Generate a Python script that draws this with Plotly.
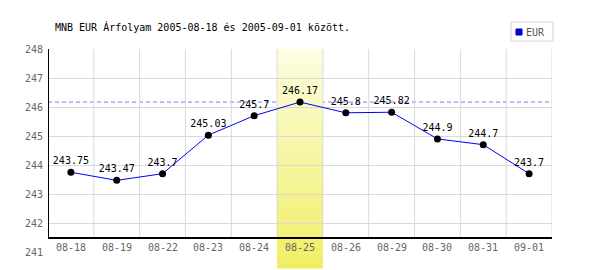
import plotly.graph_objects as go

categories = ["08-18", "08-19", "08-22", "08-23", "08-24", "08-25",
              "08-26", "08-29", "08-30", "08-31", "09-01"]
eur_values = [243.75, 243.47, 243.7, 245.03, 245.7, 246.17,
              245.8, 245.82, 244.9, 244.7, 243.7]
series_name = "EUR"
title_text = "MNB EUR Árfolyam 2005-08-18 és 2005-09-01 között."
y_ticks = [241, 242, 243, 244, 245, 246, 247, 248]
highlight_category = "08-25"
reference_value = max(eur_values)

W, H = 600, 270
L, R, T, B = 48, 48, 49, 18
PW, PH = W - L - R, H - T - B
YMIN, YMAX = 241, 248
MONO = "DejaVu Sans Mono"
GRID = "#d9d9d9"


def px_x(px):
    return (px - L) / PW


def px_y(py):
    return (H - B - py) / PH


def val_from_py(py):
    return YMIN + (H - B - py) / PH * (YMAX - YMIN)


axis_y = val_from_py(238)
n = len(categories)

fig = go.Figure()
fig.add_trace(go.Scatter(
    x=categories, y=eur_values, name=series_name,
    mode="lines+markers+text",
    line=dict(color="#0000ff", width=1),
    marker=dict(color="black", size=7),
    text=[str(v) for v in eur_values],
    textposition="top center",
    textfont=dict(family=MONO, size=10, color="black"),
    cliponaxis=False, showlegend=False,
))

shapes = []
# vertical grid lines
for k in range(n):
    shapes.append(dict(type="line", xref="x", yref="y", x0=k + 0.5, x1=k + 0.5,
                       y0=axis_y, y1=YMAX, line=dict(color=GRID, width=1), layer="below"))
# reference dashed line
shapes.append(dict(type="line", xref="paper", yref="y", x0=0, x1=1,
                   y0=reference_value, y1=reference_value,
                   line=dict(color="#7a7aff", width=1, dash="4px,3px"), layer="between"))
# gradient highlight band
hi = categories.index(highlight_category)
top_c = (253, 253, 226)
bot_c = (240, 238, 98)
y_top, y_bot = px_y(49), px_y(268)
steps = 30
for i in range(steps):
    f = (i + 0.5) / steps
    c = tuple(round(top_c[j] + (bot_c[j] - top_c[j]) * f) for j in range(3))
    shapes.append(dict(type="rect", xref="x", yref="paper",
                       x0=hi - 0.5, x1=hi + 0.5,
                       y0=y_top + (y_bot - y_top) * (i + 1) / steps - 0.002,
                       y1=y_top + (y_bot - y_top) * i / steps,
                       fillcolor="rgb(%d,%d,%d)" % c, line=dict(width=0), layer="between"))
# black axis lines
shapes.append(dict(type="line", xref="x", yref="y", x0=-0.5, x1=n - 0.5,
                   y0=axis_y, y1=axis_y, line=dict(color="black", width=2), layer="above"))
shapes.append(dict(type="line", xref="x", yref="y", x0=-0.5, x1=-0.5,
                   y0=axis_y, y1=YMAX, line=dict(color="black", width=2), layer="above"))
# legend box
shapes.append(dict(type="rect", xref="paper", yref="paper",
                   x0=px_x(511), x1=px_x(553), y0=px_y(41), y1=px_y(22),
                   line=dict(color="#d4d4d4", width=1), fillcolor="white"))
shapes.append(dict(type="rect", xref="paper", yref="paper",
                   x0=px_x(516), x1=px_x(522), y0=px_y(35), y1=px_y(29),
                   line=dict(color="#000080", width=1), fillcolor="#0000ff"))

annotations = []
for c in categories:
    annotations.append(dict(x=c, y=val_from_py(247), xref="x", yref="y", text=c,
                            showarrow=False, font=dict(family=MONO, size=10, color="#666666"),
                            xanchor="center", yanchor="middle"))
annotations.append(dict(x=px_x(53), y=px_y(27), xref="paper", yref="paper", text=title_text,
                        showarrow=False, font=dict(family=MONO, size=10, color="black"),
                        xanchor="left", yanchor="middle"))
annotations.append(dict(x=px_x(524), y=px_y(32), xref="paper", yref="paper", text=series_name,
                        showarrow=False, font=dict(family=MONO, size=10, color="#555555"),
                        xanchor="left", yanchor="middle"))

fig.update_layout(
    width=W, height=H,
    margin=dict(l=L, r=R, t=T, b=B, pad=0),
    paper_bgcolor="white", plot_bgcolor="white",
    shapes=shapes, annotations=annotations,
    xaxis=dict(type="category", range=[-0.5, n - 0.5], showgrid=False,
               showticklabels=False, zeroline=False, showline=False, fixedrange=True),
    yaxis=dict(range=[YMIN, YMAX], tickvals=y_ticks, showgrid=True, gridcolor=GRID,
               gridwidth=1, zeroline=False, showline=False, ticks="",
               ticklabelstandoff=4,
               tickfont=dict(family=MONO, size=10, color="#666666"), fixedrange=True),
)

fig.write_html("out.html")
